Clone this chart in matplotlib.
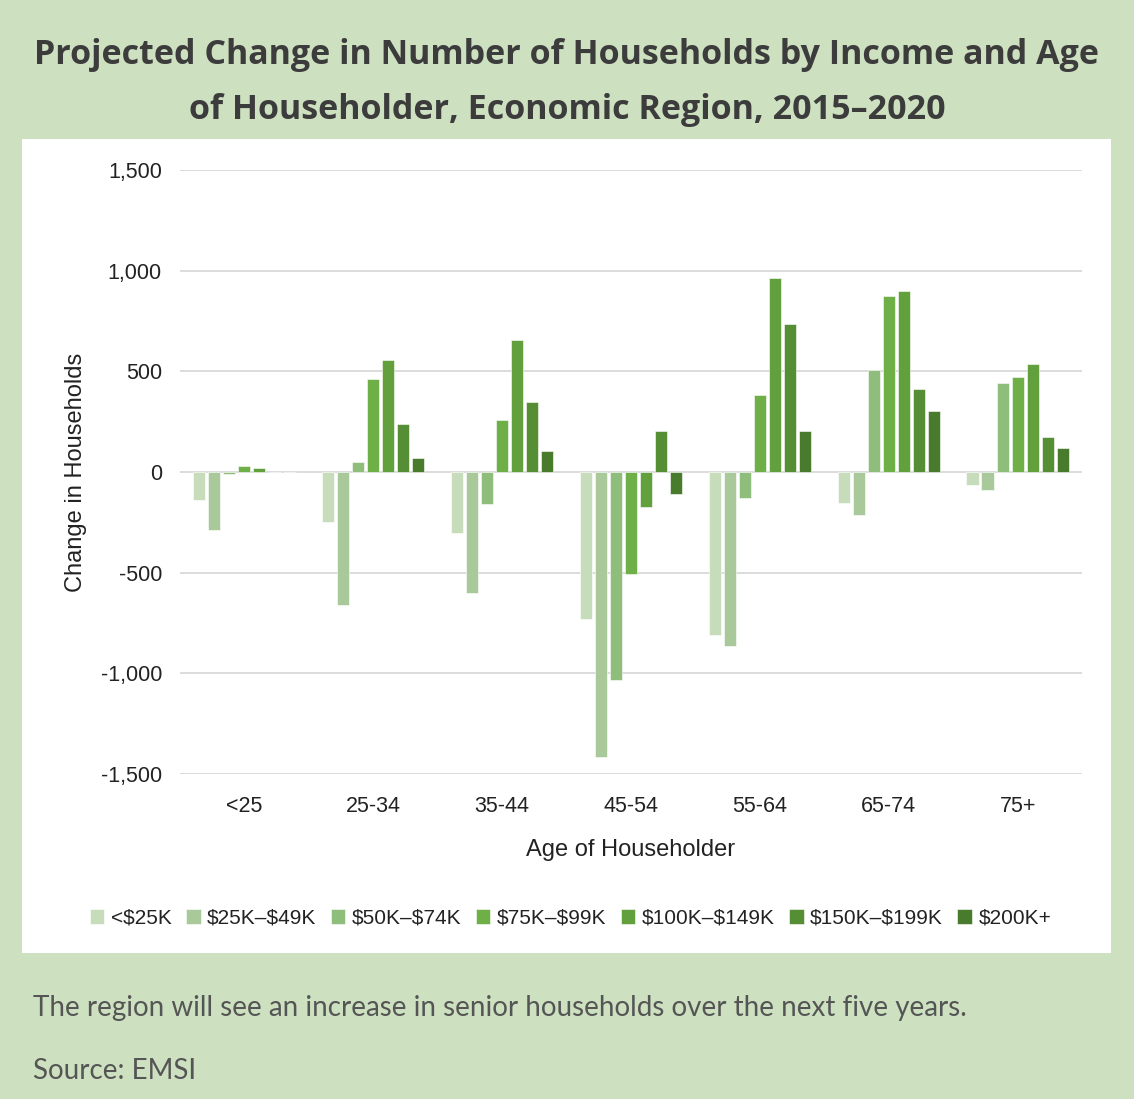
import numpy as np
import matplotlib
matplotlib.use("Agg")
import matplotlib.pyplot as plt
from matplotlib.patches import Rectangle

# ── Data ──────────────────────────────────────────────────────
ages = ["<25", "25-34", "35-44", "45-54", "55-64", "65-74", "75+"]
incomes = ["<$25K", "$25K–$49K", "$50K–$74K", "$75K–$99K",
           "$100K–$149K", "$150K–$199K", "$200K+"]

under_25k   = [-140, -250, -305, -730, -810, -155, -67]
k25_49      = [-290, -660, -600, -1418, -865, -216, -87]
k50_74      = [-10, 50, -158, -1033, -128, 505, 443]
k75_99      = [30, 460, 260, -509, 380, 872, 470]
k100_149    = [18, 555, 655, -174, 963, 900, 538]
k150_199    = [0, 240, 350, 202, 737, 410, 176]
over_200k   = [0, 72, 105, -108, 202, 305, 121]

series = [under_25k, k25_49, k50_74, k75_99, k100_149, k150_199, over_200k]
colors = ["#c6dcba", "#a9c99b", "#8fbd7b", "#6eaf47",
          "#61a03c", "#568e35", "#497b2c"]

BG = "#cde1c0"
GRID = "#d9d9d9"
plt.rcParams["text.parse_math"] = False
chart_font = ["Liberation Sans Narrow", "Liberation Sans", "DejaVu Sans"]

# ── Figure ────────────────────────────────────────────────────
fig = plt.figure(figsize=(11.34, 10.99), dpi=100)
fig.patch.set_facecolor(BG)

W, H = 1134, 1099
# white chart panel
fig.patches.append(Rectangle((22 / W, 1 - 953 / H), (1111 - 22) / W, (953 - 139) / H,
                             transform=fig.transFigure, facecolor="white",
                             edgecolor="none", zorder=-5))

title_font = ["Open Sans", "DejaVu Sans"]
fig.text(0.5, 1 - 55 / H, "Projected Change in Number of Households by Income and Age",
         ha="center", va="center", fontsize=24.5, fontweight="bold",
         family=title_font, color="#3c3c3c")
fig.text(0.5, 1 - 110 / H, "of Householder, Economic Region, 2015–2020",
         ha="center", va="center", fontsize=24.5, fontweight="bold",
         family=title_font, color="#3c3c3c")

ax = fig.add_axes([180 / W, 1 - 774 / H, (1082 - 180) / W, (774 - 170) / H])
ax.set_facecolor("white")

x = np.arange(len(ages))
step = 0.1165
w = 0.094
for i, (vals, c, lab) in enumerate(zip(series, colors, incomes)):
    ax.bar(x + (i - 3) * step, vals, w, color=c, label=lab, zorder=3,
           edgecolor="white", linewidth=0.4)

ax.set_xlim(-0.5, 6.5)
ax.set_ylim(-1500, 1500)
ax.set_yticks(np.arange(-1500, 1501, 500))
ax.set_yticklabels([f"{v:,}" for v in np.arange(-1500, 1501, 500)])
ax.yaxis.grid(True, color=GRID, linewidth=1.3, zorder=0)
ax.set_axisbelow(True)
for s in ax.spines.values():
    s.set_visible(False)
ax.tick_params(axis="both", length=0, labelsize=15.5, colors="#222222")
ax.tick_params(axis="y", pad=13)
ax.tick_params(axis="x", pad=16)
ax.set_xticks(x)
ax.set_xticklabels(ages)
for t in ax.get_xticklabels() + ax.get_yticklabels():
    t.set_family(chart_font)

ax.set_ylabel("Change in Households", fontsize=17, family=chart_font,
              color="#222222", labelpad=10)
ax.set_xlabel("Age of Householder", fontsize=17, family=chart_font,
              color="#222222", labelpad=16)

leg = fig.legend(loc="center", bbox_to_anchor=(0.503, 1 - 918 / H), ncol=7,
                 frameon=False, handlelength=0.7, handleheight=0.7,
                 handletextpad=0.3, columnspacing=0.7,
                 prop={"family": chart_font, "size": 15})
for t in leg.get_texts():
    t.set_color("#222222")

cap_font = ["Lato", "Open Sans", "DejaVu Sans"]
fig.text(33 / W, 1 - 1008 / H,
         "The region will see an increase in senior households over the next five years.",
         ha="left", va="center", fontsize=20, fontweight="normal",
         family=cap_font, color="#555555")
fig.text(33 / W, 1 - 1071 / H, "Source: EMSI",
         ha="left", va="center", fontsize=20, fontweight="normal",
         family=cap_font, color="#555555")

fig.savefig("out.png", dpi=100, facecolor=BG)
